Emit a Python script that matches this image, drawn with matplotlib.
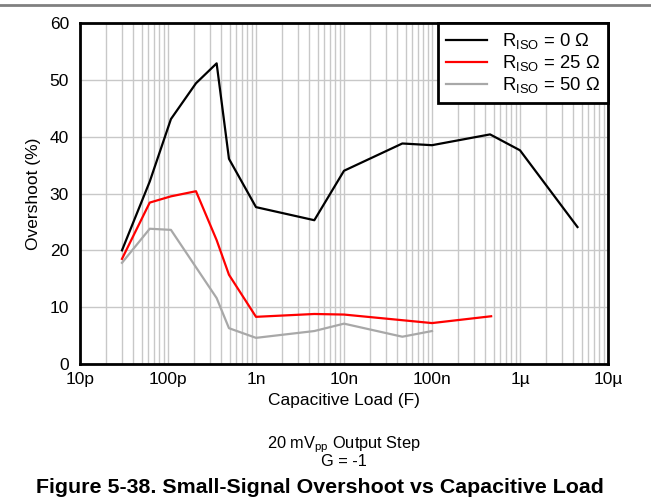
import matplotlib
matplotlib.use("Agg")
import matplotlib.pyplot as plt
from matplotlib.ticker import LogLocator, FixedLocator, NullFormatter

plt.rcParams['font.family'] = ['Liberation Sans', 'DejaVu Sans']
plt.rcParams['mathtext.fontset'] = 'custom'
plt.rcParams['mathtext.rm'] = 'Liberation Sans'

# Data
cap_0 = [30e-12, 62e-12, 108e-12, 208e-12, 357e-12, 493e-12, 1e-9, 4.6e-9, 10e-9, 46e-9, 100e-9, 457e-9, 1e-6, 4.5e-6]
ovs_0 = [20.0, 32.1, 43.1, 49.4, 52.9, 36.1, 27.6, 25.3, 34.0, 38.8, 38.5, 40.4, 37.6, 24.1]

cap_25 = [30e-12, 62e-12, 108e-12, 208e-12, 357e-12, 493e-12, 1e-9, 4.6e-9, 10e-9, 100e-9, 470e-9]
ovs_25 = [18.5, 28.4, 29.5, 30.4, 21.8, 15.7, 8.3, 8.8, 8.7, 7.2, 8.4]

cap_50 = [30e-12, 62e-12, 108e-12, 357e-12, 493e-12, 1e-9, 4.6e-9, 10e-9, 46e-9, 100e-9]
ovs_50 = [17.8, 23.8, 23.6, 11.6, 6.3, 4.6, 5.8, 7.1, 4.8, 5.8]

xticks = [1e-11, 1e-10, 1e-9, 1e-8, 1e-7, 1e-6, 1e-5]
xticklabels = ['10p', '100p', '1n', '10n', '100n', '1\u00b5', '10\u00b5']
yticks = [0, 10, 20, 30, 40, 50, 60]

W, H = 651, 498
fig = plt.figure(figsize=(W / 100, H / 100), dpi=100)
ax = fig.add_axes([80 / W, 1 - 364 / H, (608 - 80) / W, (364 - 23) / H])

ax.plot(cap_0, ovs_0, color='black', lw=1.6, label=r'$\mathregular{R_{ISO}}$ = 0 Ω')
ax.plot(cap_25, ovs_25, color='#ff0000', lw=1.6, label=r'$\mathregular{R_{ISO}}$ = 25 Ω')
ax.plot(cap_50, ovs_50, color='#a8a8a8', lw=1.6, label=r'$\mathregular{R_{ISO}}$ = 50 Ω')

ax.set_xscale('log')
ax.set_xlim(1e-11, 1e-5)
ax.set_ylim(0, 60)
ax.xaxis.set_major_locator(FixedLocator(xticks))
ax.set_xticklabels(xticklabels)
ax.xaxis.set_minor_locator(LogLocator(base=10, subs=range(2, 10), numticks=20))
ax.xaxis.set_minor_formatter(NullFormatter())
ax.set_yticks(yticks)

ax.grid(True, which='major', axis='both', color='#c8c8c8', lw=1.0)
ax.grid(True, which='minor', axis='x', color='#c8c8c8', lw=1.0)
ax.set_axisbelow(True)
ax.tick_params(which='both', length=0, labelsize=12.5)
ax.tick_params(axis='x', pad=6)
ax.tick_params(axis='y', pad=8)

for s in ax.spines.values():
    s.set_linewidth(2.0)
    s.set_color('black')

ax.set_xlabel('Capacitive Load (F)', fontsize=12.5, labelpad=4)
ax.set_ylabel('Overshoot (%)', fontsize=12.5, labelpad=6)

leg = ax.legend(loc='upper right', borderaxespad=0, fancybox=False, fontsize=13.3,
                handlelength=2.2, handletextpad=0.8, borderpad=0.45, labelspacing=0.1)
leg.get_frame().set_edgecolor('black')
leg.get_frame().set_linewidth(2.0)
leg.get_frame().set_alpha(1)

# top rule
fig.add_artist(plt.Line2D([0, 1], [1 - 5 / H, 1 - 5 / H], color='#808080', lw=2.0))

fig.text(344 / W, 1 - 448 / H, r'20 mV$\mathregular{_{pp}}$ Output Step', ha='center', va='baseline', fontsize=11.8)
fig.text(344 / W, 1 - 466 / H, 'G = -1', ha='center', va='baseline', fontsize=11.8)
fig.text(320 / W, 1 - 493 / H, 'Figure 5-38. Small-Signal Overshoot vs Capacitive Load',
         ha='center', va='baseline', fontsize=15.4, fontweight='bold')

fig.savefig('out.png', dpi=100)
